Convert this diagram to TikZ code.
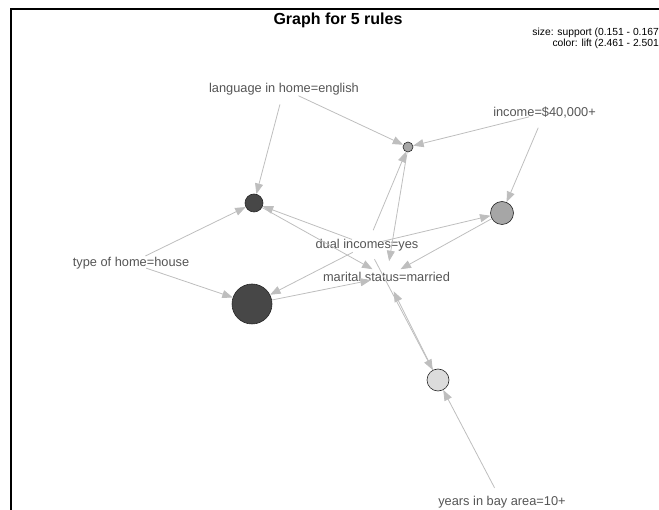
\documentclass[tikz,border=0pt]{standalone}
\usepackage{fontspec}
\setmainfont{Liberation Sans}
\usetikzlibrary{arrows.meta}
\definecolor{edgegray}{RGB}{190,190,190}
\definecolor{labelgray}{RGB}{85,85,85}
\definecolor{darkfill}{RGB}{71,71,71}
\definecolor{midfill}{RGB}{166,166,166}
\definecolor{lightfill}{RGB}{220,220,220}
\begin{document}
\begin{tikzpicture}[x=1pt,y=-1pt,
  item/.style={text=labelgray,font=\fontsize{12.8}{14}\selectfont,inner sep=0pt},
  rulenode/.style={circle,draw=black!85,line width=0.6pt,inner sep=0pt},
  edge/.style={draw=edgegray,line width=0.8pt,-{Triangle[length=10.5pt,width=8pt]}},
  fromitem/.style={edge,shorten <=16pt},
  toitem/.style={edge,shorten >=16pt}]
\useasboundingbox (0,0) rectangle (659,510);
% frame
\draw[line width=2pt] (10.5,511) -- (10.5,9.5) -- (660,9.5);
% title and legend
\node[font=\fontsize{16}{19}\selectfont\bfseries] (title) at (338,20) {Graph for 5 rules};
\node[anchor=east,font=\fontsize{10.3}{12}\selectfont,inner sep=0pt] (leg1) at (659,33) {size: support (0.151 - 0.167};
\node[anchor=east,font=\fontsize{10.3}{12}\selectfont,inner sep=0pt] (leg2) at (659,44) {color: lift (2.461 - 2.501};
% rule circles
\node[rulenode,fill=midfill,minimum size=10pt] (c1) at (408,147) {};
\node[rulenode,fill=darkfill,minimum size=18pt] (c2) at (254,203) {};
\node[rulenode,fill=midfill,minimum size=23pt] (c3) at (502,213) {};
\node[rulenode,fill=darkfill,minimum size=40pt] (c4) at (252,304) {};
\node[rulenode,fill=lightfill,minimum size=22pt] (c5) at (438,380) {};
% items
\node[item] (lang) at (284,89) {language in home=english};
\node[item] (income) at (544.5,113) {income=\$40,000+};
\node[item] (type) at (131,263) {type of home=house};
\node[item] (dual) at (367,245) {dual incomes=yes};
\node[item] (married) at (386.5,277) {marital status=married};
\node[item] (years) at (502,502) {years in bay area=10+};
% edges: lhs -> rule
\draw[fromitem] (lang.center) -- (c1);
\draw[fromitem] (lang.center) -- (c2);
\draw[fromitem] (income.center) -- (c1);
\draw[fromitem] (income.center) -- (c3);
\draw[fromitem] (type.center) -- (c2);
\draw[fromitem] (type.center) -- (c4);
\draw[fromitem] (dual.center) -- (c1);
\draw[fromitem] (dual.center) -- (c2);
\draw[fromitem] (dual.center) -- (c3);
\draw[fromitem] (dual.center) -- (c4);
\draw[fromitem] (dual.center) -- (c5);
\draw[fromitem] (years.center) -- (c5);
% edges: rule -> rhs
\draw[toitem] (c1) -- (married.center);
\draw[toitem] (c2) -- (married.center);
\draw[toitem] (c3) -- (married.center);
\draw[toitem] (c4) -- (married.center);
\draw[toitem] (c5) -- (married.center);
\end{tikzpicture}
\end{document}
